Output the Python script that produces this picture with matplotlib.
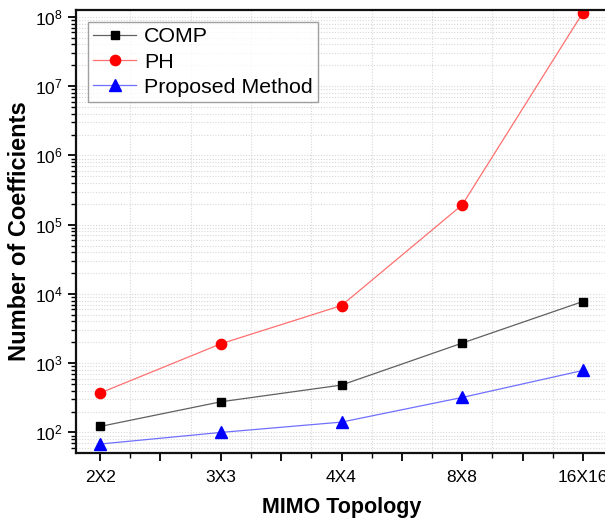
import matplotlib
matplotlib.use("Agg")
import matplotlib.pyplot as plt
import numpy as np
from matplotlib.ticker import LogLocator, NullFormatter, FixedLocator

# Coefficient counts per MIMO topology
topologies = ["2X2", "3X3", "4X4", "8X8", "16X16"]
comp = [122, 277, 483, 1950, 7770]
ph = [371, 1905, 6800, 193000, 115000000]
proposed = [68, 100, 141, 320, 785]

plt.rcParams["font.family"] = ["Liberation Sans", "DejaVu Sans"]
plt.rcParams["mathtext.fontset"] = "custom"
plt.rcParams["mathtext.rm"] = "Liberation Sans"

fig = plt.figure(figsize=(6.05, 5.23), dpi=100)
ax = fig.add_axes([76 / 605, 70 / 523, 531 / 605, 443 / 523])

x = np.arange(1, len(topologies) + 1)

ax.plot(x, comp, color="#606060", lw=0.9, marker="s", ms=6.2,
        mfc="black", mec="black", label="COMP")
ax.plot(x, ph, color="#ff7070", lw=0.9, marker="o", ms=7.4,
        mfc="red", mec="red", label="PH")
ax.plot(x, proposed, color="#7070ff", lw=0.9, marker="^", ms=8.2,
        mfc="blue", mec="blue", label="Proposed Method")

ax.set_yscale("log")
ax.set_ylim(10 ** 1.703, 10 ** 8.1)
ax.set_xlim(0.8, 5.2)

# x ticks: labelled categories, long ticks every half step, short every quarter
major_x = np.arange(1.0, 5.01, 0.5)
ax.set_xticks(major_x)
ax.set_xticklabels([topologies[int(v) - 1] if float(v).is_integer() else ""
                    for v in major_x], fontsize=12.5)
ax.xaxis.set_minor_locator(FixedLocator(np.arange(1.25, 5.2, 0.5)))

ax.yaxis.set_major_locator(LogLocator(base=10, numticks=20))
ax.yaxis.set_minor_locator(LogLocator(base=10, subs=np.arange(2, 10), numticks=20))
ax.yaxis.set_minor_formatter(NullFormatter())
ax.tick_params(axis="y", which="major", labelsize=12.5, length=6, width=1.3, direction="out")
ax.tick_params(axis="y", which="minor", length=3.5, width=1.0, direction="out")
ax.tick_params(axis="x", which="major", length=6, width=1.3, direction="out", pad=6)
ax.tick_params(axis="x", which="minor", length=3.5, width=1.0, direction="out")

# dotted grid at the minor positions on both axes
ax.grid(True, which="minor", axis="both", color="#d8d8d8", ls=(0, (1, 1.5)), lw=0.8)
ax.grid(True, which="major", axis="y", color="#d8d8d8", ls=(0, (1, 1.5)), lw=0.8)
ax.set_axisbelow(True)

for s in ax.spines.values():
    s.set_linewidth(1.6)
    s.set_color("#111111")

ax.set_xlabel("MIMO Topology", fontsize=15.5, fontweight="bold", labelpad=9)
ax.set_ylabel("Number of Coefficients", fontsize=17, fontweight="bold", labelpad=3)

leg = ax.legend(loc="upper left", bbox_to_anchor=(0.0, 1.0), fontsize=15.4,
                frameon=True, fancybox=False, edgecolor="#888888",
                handlelength=2.0, handletextpad=0.37, borderpad=0.25,
                labelspacing=0.3, borderaxespad=0.55)
leg.get_frame().set_linewidth(1.0)

fig.savefig("out.png", dpi=100)
